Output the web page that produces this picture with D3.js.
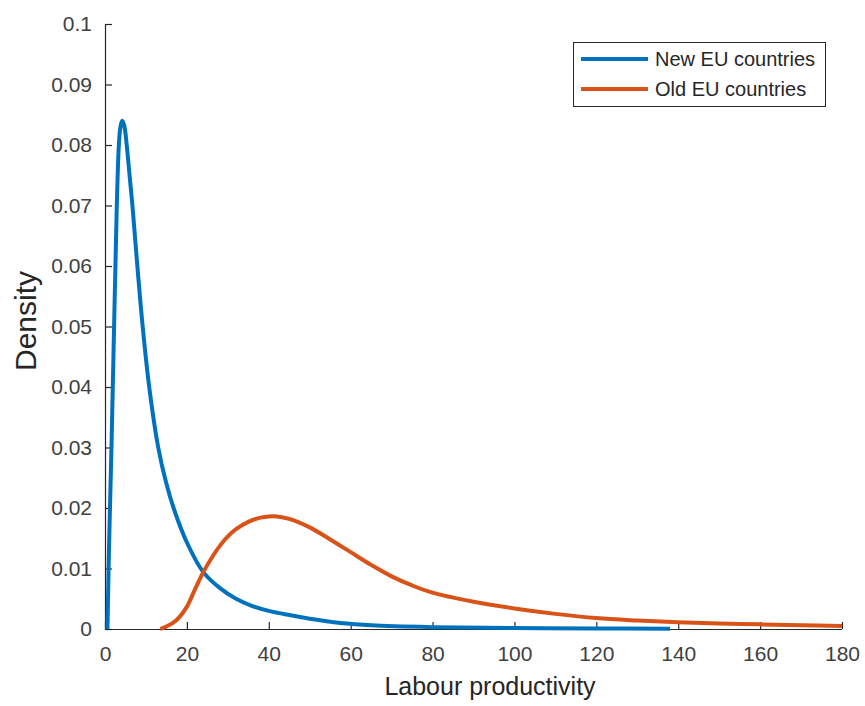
<!DOCTYPE html>
<html>
<head>
<meta charset="utf-8">
<script src="https://cdn.jsdelivr.net/npm/d3@7"></script>
<style>
  html, body { margin: 0; padding: 0; background: #fff; }
  svg { display: block; font-family: "Liberation Sans", Arial, Helvetica, sans-serif; }
</style>
</head>
<body>
<svg id="chart" width="865" height="706"></svg>
<script>
// ---- data ----
const seriesNames = ["New EU countries", "Old EU countries"];
const seriesColors = ["#0072BD", "#D95319"];

const newX = [0.6, 1.0, 1.6, 2.3, 2.85, 3.4, 3.8, 4.2, 4.7, 5.3, 6.0, 6.7, 7.9, 9.2, 10.8, 13.0, 15.0, 17.0, 20, 24, 28, 32, 36, 40, 45, 50, 57.5, 65, 80, 100, 120, 138];
const newY = [0, 0.014, 0.0306, 0.0526, 0.0691, 0.0802, 0.0831, 0.0840, 0.0832, 0.0800, 0.0750, 0.0700, 0.0600, 0.0500, 0.0400, 0.0300, 0.0240, 0.0195, 0.0143, 0.0094, 0.0068, 0.0050, 0.0038, 0.0030, 0.0023, 0.0017, 0.0010, 0.0006, 0.0003, 0.00015, 0.00008, 0.00004];

const oldX = [13.5, 15, 17.5, 20, 22, 24, 26, 28, 30, 32, 35, 38, 40, 42, 45, 50, 55, 60, 65, 70, 75, 80, 90, 100, 110, 120, 130, 140, 150, 160, 170, 180];
const oldY = [0, 0.0004, 0.0015, 0.0037, 0.0066, 0.0094, 0.0117, 0.0137, 0.0153, 0.0165, 0.0177, 0.0184, 0.0186, 0.0186, 0.0182, 0.0168, 0.0148, 0.0127, 0.0106, 0.0087, 0.0072, 0.0060, 0.0045, 0.0034, 0.0025, 0.0018, 0.0014, 0.0011, 0.0009, 0.00077, 0.00063, 0.0005];

const xTicks = [0, 20, 40, 60, 80, 100, 120, 140, 160, 180];
const yTicks = [0, 0.01, 0.02, 0.03, 0.04, 0.05, 0.06, 0.07, 0.08, 0.09, 0.1];
const xLabel = "Labour productivity";
const yLabel = "Density";

// ---- layout ----
const svg = d3.select("#chart");
const mLeft = 105, mRight = 842, mTop = 24, mBottom = 629;
const axisColor = "#262626";

const x = d3.scaleLinear().domain([0, 180]).range([mLeft, mRight]);
const y = d3.scaleLinear().domain([0, 0.1]).range([mBottom, mTop]);

// axes
const xAxis = d3.axisBottom(x).tickValues(xTicks).tickSize(-7).tickPadding(13)
  .tickFormat(d3.format("d"));
const yAxis = d3.axisLeft(y).tickValues(yTicks).tickSize(-7).tickPadding(13)
  .tickFormat(d => d === 0 ? "0" : d3.format("~g")(d));

const gx = svg.append("g").attr("transform", `translate(0,${mBottom})`).call(xAxis);
const gy = svg.append("g").attr("transform", `translate(${mLeft},0)`).call(yAxis);

[gx, gy].forEach(g => {
  g.select(".domain").attr("stroke", axisColor).attr("stroke-width", 1.2);
  g.selectAll(".tick line").attr("stroke", axisColor).attr("stroke-width", 1.2);
  g.selectAll(".tick text")
    .attr("fill", "#404040")
    .style("font-size", "21px")
    .style("font-family", '"Liberation Sans", Arial, sans-serif');
});
gx.select(".domain").attr("d", `M${mLeft},0.5H${mRight}`);
gy.select(".domain").attr("d", `M0.5,${mBottom}V${mTop}`);
gx.selectAll(".tick text").attr("dy", "0.9em");
gy.selectAll(".tick text").attr("x", -13);

// axis labels
svg.append("text")
  .attr("x", 490).attr("y", 695)
  .attr("text-anchor", "middle")
  .attr("fill", "#262626")
  .style("font-size", "25px")
  .text(xLabel);

svg.append("text")
  .attr("transform", "translate(36,321) rotate(-90)")
  .attr("text-anchor", "middle")
  .attr("fill", "#262626")
  .style("font-size", "30px")
  .text(yLabel);

// lines
const line = d3.line().x(d => x(d[0])).y(d => y(d[1])).curve(d3.curveCatmullRom.alpha(0.5));
const seriesData = [d3.zip(newX, newY), d3.zip(oldX, oldY)];

seriesData.forEach((data, i) => {
  svg.append("path")
    .datum(data)
    .attr("fill", "none")
    .attr("stroke", seriesColors[i])
    .attr("stroke-width", 4)
    .attr("stroke-linejoin", "round")
    .attr("stroke-linecap", "butt")
    .attr("d", line);
});

// legend
const lg = svg.append("g");
lg.append("rect")
  .attr("x", 573.5).attr("y", 42.5).attr("width", 252).attr("height", 64)
  .attr("fill", "#fff").attr("stroke", axisColor).attr("stroke-width", 1);
seriesNames.forEach((name, i) => {
  const ly = 59 + i * 30;
  lg.append("line")
    .attr("x1", 581).attr("x2", 648).attr("y1", ly).attr("y2", ly)
    .attr("stroke", seriesColors[i]).attr("stroke-width", 4);
  lg.append("text")
    .attr("x", 655).attr("y", ly).attr("dy", "0.35em")
    .attr("fill", "#262626")
    .style("font-size", "20px")
    .text(name);
});
</script>
</body>
</html>
